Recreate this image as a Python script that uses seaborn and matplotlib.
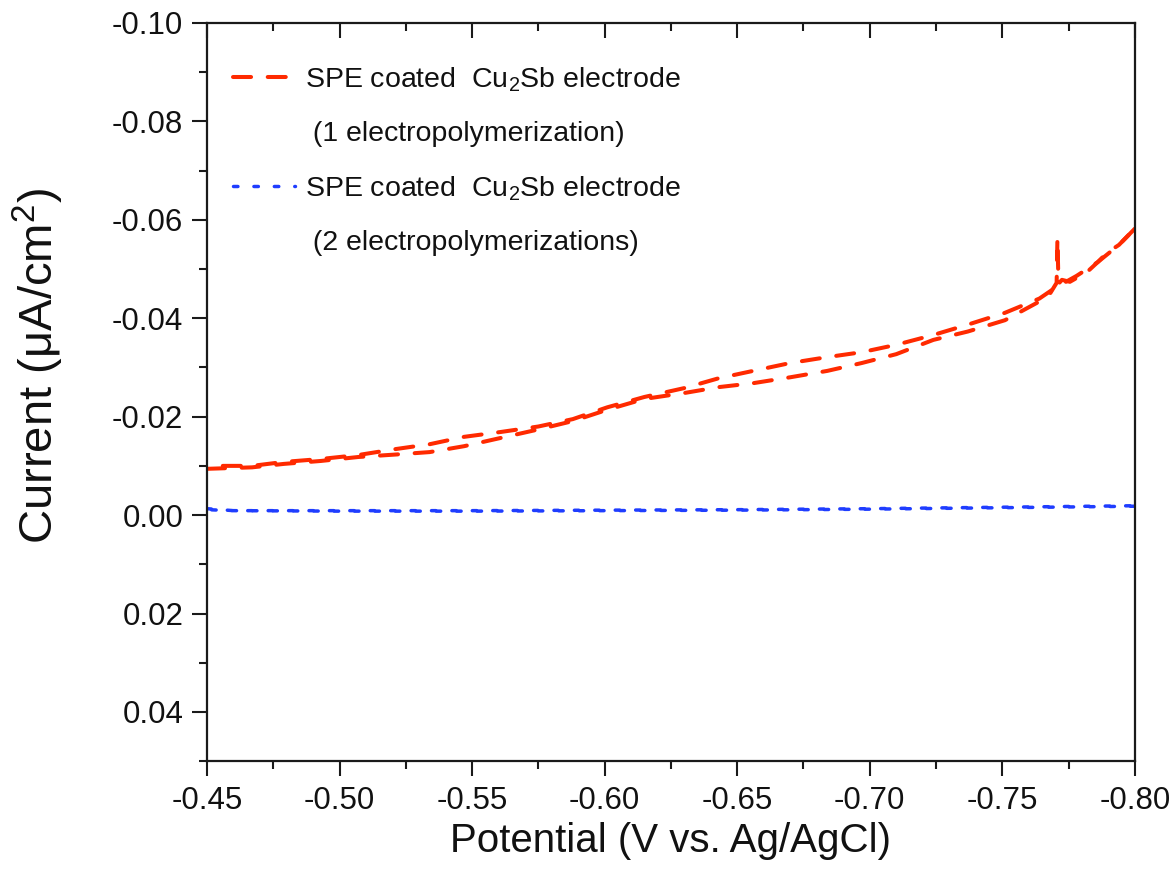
import matplotlib
matplotlib.use("Agg")
import matplotlib.pyplot as plt
from matplotlib.lines import Line2D
from matplotlib.ticker import MultipleLocator, FormatStrFormatter
import numpy as np
import pandas as pd
import seaborn as sns

# Linear sweep data: potential (V vs. Ag/AgCl) and current (uA/cm^2)
# Film from one electropolymerization: forward sweep (with the spike near -0.77 V)
fwd1_potential = [-0.450, -0.467, -0.479, -0.493, -0.507, -0.521, -0.534, -0.547,
                  -0.561, -0.575, -0.588, -0.601, -0.615, -0.630, -0.643, -0.656,
                  -0.670, -0.684, -0.697, -0.710, -0.724, -0.737, -0.751, -0.764,
                  -0.768, -0.7705, -0.7708, -0.7712, -0.7725, -0.7755, -0.782,
                  -0.786, -0.7895, -0.794, -0.800]
fwd1_current = [-0.0094, -0.0097, -0.0104, -0.0110, -0.0118, -0.0123, -0.0128, -0.0140,
                -0.0157, -0.0174, -0.0191, -0.0214, -0.0236, -0.0248, -0.0260, -0.0268,
                -0.0280, -0.0293, -0.0309, -0.0327, -0.0356, -0.0373, -0.0396, -0.0434,
                -0.0450, -0.0472, -0.0563, -0.0470, -0.0478, -0.0474, -0.0494,
                -0.0514, -0.0533, -0.0549, -0.0582]
# Reverse sweep of the same film
rev1_potential = [-0.800, -0.794, -0.786, -0.778, -0.770, -0.764, -0.751, -0.737,
                  -0.724, -0.710, -0.697, -0.684, -0.670, -0.656, -0.643, -0.630,
                  -0.615, -0.601, -0.588, -0.575, -0.561, -0.547, -0.534, -0.521,
                  -0.507, -0.493, -0.479, -0.467, -0.450]
rev1_current = [-0.0582, -0.0549, -0.0514, -0.0486, -0.0462, -0.0440, -0.0411, -0.0387,
                -0.0366, -0.0346, -0.0331, -0.0321, -0.0309, -0.0293, -0.0278, -0.0258,
                -0.0240, -0.0219, -0.0195, -0.0180, -0.0169, -0.0159, -0.0144, -0.0134,
                -0.0122, -0.0114, -0.0108, -0.0100, -0.0100]

# Film from two electropolymerizations
fwd2_potential = [-0.450, -0.460, -0.500, -0.550, -0.600, -0.650, -0.700, -0.750, -0.800]
fwd2_current = [-0.0013, -0.0009, -0.0009, -0.0009, -0.0010, -0.0011, -0.0013, -0.0016, -0.0019]
rev2_potential = [-0.800, -0.750, -0.700, -0.650, -0.600, -0.550, -0.500, -0.460, -0.450]
rev2_current = [-0.0018, -0.0015, -0.0012, -0.0010, -0.0009, -0.0008, -0.0008, -0.0009, -0.0011]

label_1 = "SPE coated  Cu$_\\mathregular{2}$Sb electrode"
label_1b = " (1 electropolymerization)"
label_2 = "SPE coated  Cu$_\\mathregular{2}$Sb electrode"
label_2b = " (2 electropolymerizations)"

x_ticks = [-0.45, -0.50, -0.55, -0.60, -0.65, -0.70, -0.75, -0.80]
y_ticks = [-0.10, -0.08, -0.06, -0.04, -0.02, 0.00, 0.02, 0.04]

RED = "#ff2a00"
BLUE = "#1f3dff"

sns.set_theme(style="white")
plt.rcParams["font.family"] = ["Liberation Sans", "DejaVu Sans"]
plt.rcParams["axes.unicode_minus"] = False
plt.rcParams["lines.scale_dashes"] = False

fig, ax = plt.subplots(figsize=(11.76, 8.83), dpi=100)
fig.subplots_adjust(left=0.176, right=0.965, top=0.974, bottom=0.138)

red_style = dict(color=RED, linewidth=2.9, linestyle=(0, (13, 12)),
                 dash_capstyle="round")
blue_style = dict(color=BLUE, linewidth=2.5, linestyle=(0, (3.2, 11.5)),
                  dash_capstyle="round")

for pot, cur, style in [
    (fwd1_potential, fwd1_current, red_style),
    (rev1_potential, rev1_current, red_style),
    (fwd2_potential, fwd2_current, blue_style),
    (rev2_potential, rev2_current, blue_style),
]:
    df = pd.DataFrame({"potential": pot, "current": cur})
    sns.lineplot(data=df, x="potential", y="current", sort=False,
                 estimator=None, ax=ax, legend=False, **style)

ax.set_xlim(-0.45, -0.80)
ax.set_ylim(0.05, -0.10)
ax.set_xticks(x_ticks)
ax.set_yticks(y_ticks)
ax.xaxis.set_minor_locator(MultipleLocator(0.025))
ax.yaxis.set_minor_locator(MultipleLocator(0.01))
ax.xaxis.set_major_formatter(FormatStrFormatter("%.2f"))
ax.yaxis.set_major_formatter(FormatStrFormatter("%.2f"))

spine_color = "#1a1a1a"
for side in ["left", "right", "top", "bottom"]:
    ax.spines[side].set_visible(True)
    ax.spines[side].set_color(spine_color)
    ax.spines[side].set_linewidth(1.6)

ax.tick_params(axis="both", which="major", direction="out", length=11, width=1.5,
               color=spine_color, labelsize=22.5, labelcolor="#111111")
ax.tick_params(axis="both", which="minor", direction="out", length=6, width=1.5,
               color=spine_color)
ax.tick_params(axis="x", which="both", bottom=True, top=False, pad=7)
ax.tick_params(axis="y", which="both", left=True, right=False, pad=6)

# Inward ticks along the top edge
top = ax.secondary_xaxis("top")
top.set_xticks(x_ticks)
top.xaxis.set_minor_locator(MultipleLocator(0.025))
top.tick_params(which="major", direction="in", length=11, width=1.5, color=spine_color,
                labeltop=False)
top.tick_params(which="minor", direction="in", length=6, width=1.5, color=spine_color)
top.spines["top"].set_visible(False)

ax.set_xlabel("Potential (V vs. Ag/AgCl)", fontsize=29, color="#111111", labelpad=4)
ax.set_ylabel("Current (\u03bcA/cm$^\\mathregular{2}$)", fontsize=34, color="#111111")
ax.yaxis.set_label_coords(-0.152, 0.535)

blank = Line2D([], [], linestyle="none")
handles = [Line2D([], [], **red_style), blank, Line2D([], [], **blue_style), blank]
labels = [label_1, label_1b, label_2, label_2b]
ax.legend(handles, labels, loc="upper left", bbox_to_anchor=(0.0, 0.978),
          frameon=False, fontsize=20.5, handlelength=2.2, handletextpad=0.35,
          labelspacing=0.95, labelcolor="#111111")

fig.savefig("out.png", dpi=100)
